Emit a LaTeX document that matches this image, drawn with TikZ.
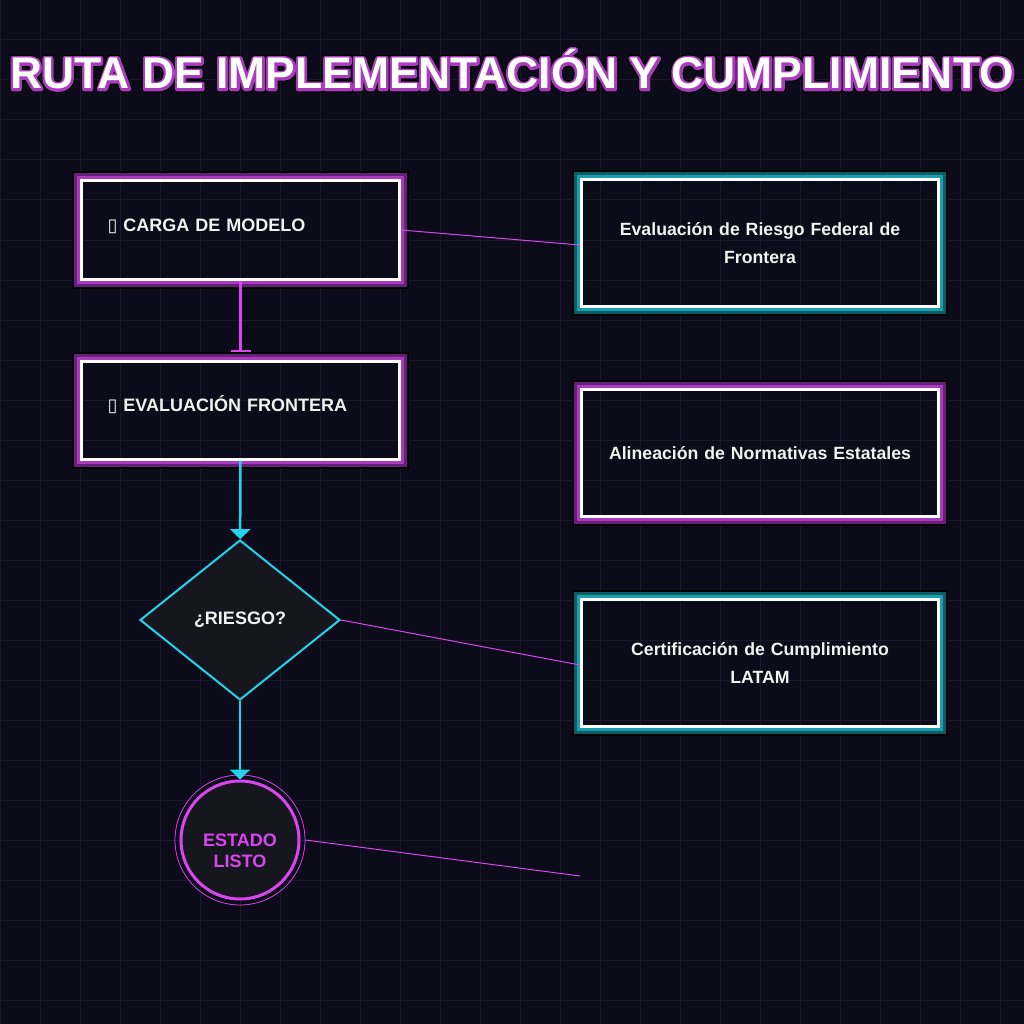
\documentclass[tikz,border=0pt]{standalone}
\usepackage{fontspec}
\setmainfont{Liberation Sans}
\newfontfamily\symfont{DejaVu Sans}
\newfontfamily\titleedge{Liberation Sans Bold}[FakeBold=16]
\newfontfamily\titlehalo{Liberation Sans Bold}[FakeBold=11]
\newfontfamily\titleface{Liberation Sans Bold}
\usetikzlibrary{positioning,shapes.geometric,arrows.meta}

\definecolor{bgdark}{HTML}{0B0B19}
\definecolor{gridline}{HTML}{191929}
\definecolor{neonpink}{HTML}{D946EF}
\definecolor{neoncyan}{HTML}{22D3EE}
\definecolor{glowpurple}{HTML}{A83CBC}
\definecolor{glowpurpledk}{HTML}{66207A}
\definecolor{glowteal}{HTML}{1A9FB0}
\definecolor{glowtealdk}{HTML}{0D5C66}
\definecolor{shapefill}{HTML}{16161F}
\definecolor{labelwhite}{HTML}{F2F2F2}

% neon frame around a box node: #1 node, #2 inner glow, #3 outer glow
\newcommand\neonframe[3]{%
  \draw[#2, line width=3pt] ([shift={(-1.5,-1.5)}]#1.north west) rectangle ([shift={(1.5,1.5)}]#1.south east);
  \draw[#3, line width=3pt] ([shift={(-4.5,-4.5)}]#1.north west) rectangle ([shift={(4.5,4.5)}]#1.south east);
  \draw[black, line width=2pt] ([shift={(-7,-7)}]#1.north west) rectangle ([shift={(7,7)}]#1.south east);
}
\newcommand\titletext{\pgfsetroundjoin RUTA DE IMPLEMENTACIÓN Y CUMPLIMIENTO}

\tikzset{
  stepbox/.style={draw=white, line width=3pt, minimum width=318pt, minimum height=98pt,
    text width=266pt, align=left, text height=13pt, text depth=10pt,
    text=labelwhite, font=\bfseries\fontsize{18}{22}\selectfont},
  infobox/.style={draw=white, line width=3pt, minimum width=357pt, minimum height=127pt,
    text width=320pt, align=center, text=labelwhite, font=\bfseries\fontsize{17.7}{28}\selectfont},
  decision/.style={diamond, aspect=1.25, minimum width=200pt, minimum height=160pt, inner sep=0pt,
    draw=neoncyan, line width=2pt, fill=shapefill, text=labelwhite, font=\bfseries\fontsize{18}{22}\selectfont},
  endstate/.style={circle, minimum size=118pt, inner sep=0pt, draw=neonpink, line width=3pt,
    fill=shapefill, text=neonpink, align=center, font=\bfseries\fontsize{18}{21}\selectfont},
  titlelayer/.style={anchor=base, font=#1\fontsize{44.4}{50}\selectfont},
  tee/.style={neonpink, line width=2.5pt, -{Bar[width=20pt, line width=2pt]}, shorten >=8pt},
  flow/.style={neoncyan, line width=2.5pt, -{Triangle[length=10pt, width=20pt]}},
  link/.style={neonpink, line width=1pt},
}

\begin{document}
\begin{tikzpicture}[x=1pt, y=-1pt]
  % background and grid
  \fill[bgdark] (0,0) rectangle (1024,1024);
  \useasboundingbox (0,0) rectangle (1024,1024);
  \foreach \g in {0,40,...,1000} {
    \draw[gridline, line width=1pt] (\g,0) -- (\g,1024);
    \draw[gridline, line width=1pt] (0,\g) -- (1024,\g);
  }

  % title
  \node[titlelayer=\titleedge, text=black] (title-edge) at (512,89) {\titletext};
  \node[titlelayer=\titlehalo, text=glowpurple] (title-halo) at (512,89) {\titletext};
  \node[titlelayer=\titleface, text=white] (title) at (512,89) {\titletext};

  % main path
  \node[stepbox] (load) at (240.5,230) {{\symfont ▯} CARGA DE MODELO};
  \node[stepbox] (frontier) at (240.5,410) {{\symfont ▯} EVALUACIÓN FRONTERA};
  \node[decision] (risk) at (240,620) {¿RIESGO?};
  \node[endstate] (done) at (240,840) {\rule{0pt}{35pt}ESTADO\\LISTO};
  \draw[neonpink, line width=0.8pt] (done.center) circle (65pt);
  \neonframe{load}{glowpurple}{glowpurpledk}
  \neonframe{frontier}{glowpurple}{glowpurpledk}

  % compliance boxes
  \node[infobox] (fed) at (760,243) {Evaluación de Riesgo Federal de\\Frontera};
  \node[infobox] (states) at (760,453) {Alineación de Normativas Estatales};
  \node[infobox] (cert) at (760,663) {Certificación de Cumplimiento\\LATAM};
  \neonframe{fed}{glowteal}{glowtealdk}
  \neonframe{states}{glowpurple}{glowpurpledk}
  \neonframe{cert}{glowteal}{glowtealdk}

  % connectors
  \draw[tee] (load) -- (frontier);
  \draw[flow] (frontier) -- (risk);
  \draw[flow] (risk) -- (done);
  \draw[link] (load.east) -- ([yshift=-2pt]fed.west);
  \draw[link] (risk.east) -- ([yshift=-2pt]cert.west);
  \coordinate (loose) at (580,876);
  \draw[link] ([xshift=5pt]done.east) -- (loose);
\end{tikzpicture}
\end{document}
